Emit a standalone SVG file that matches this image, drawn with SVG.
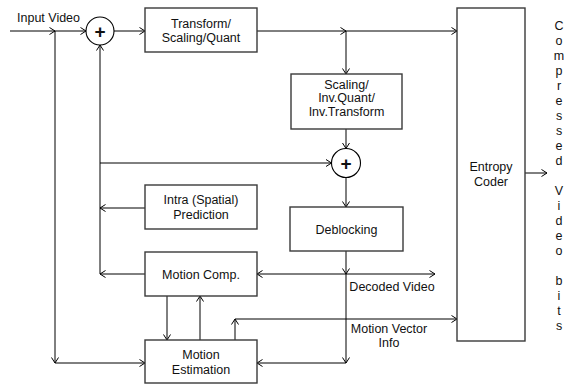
<svg xmlns="http://www.w3.org/2000/svg" width="565" height="385" viewBox="0 0 565 385">
<defs>
<marker id="ah" markerWidth="8" markerHeight="10" refX="6" refY="4" orient="auto-start-reverse" markerUnits="userSpaceOnUse">
<path d="M0.5,0.5 L6,4 L0.5,7.5" fill="none" stroke="#000" stroke-width="1"/>
</marker>
<style>
.box{fill:#fff;stroke:#3a3a3a;stroke-width:1.4}
.ln{fill:none;stroke:#000;stroke-width:1;marker-end:url(#ah)}
text{font-family:"Liberation Sans",Arial,sans-serif;font-size:12.5px;fill:#111}
.c{text-anchor:middle}
.plus{font-size:19px;font-weight:bold}
</style>
</defs>
<rect width="565" height="385" fill="#fff"/>
<g id="connectors">
<path class="ln" d="M10,31 H55"/>
<path class="ln" d="M55,31 H86"/>
<path class="ln" d="M114,31 H145"/>
<path class="ln" d="M257,31 H346"/>
<path class="ln" d="M346,31 H457"/>
<path class="ln" d="M346,31 V74"/>
<path class="ln" d="M346,129 V148.5"/>
<path class="ln" d="M346,177.5 V207"/>
<path class="ln" d="M346,251 V274"/>
<path class="ln" d="M346,274 V363"/>
<path class="ln" d="M346,363 H257"/>
<path class="ln" d="M257,274 H435" style="marker-start:url(#ah)"/>
<path class="ln" d="M55,31 V363"/>
<path class="ln" d="M55,363 H145"/>
<path class="ln" d="M100,274 V45"/>
<path class="ln" d="M145,208 H100"/>
<path class="ln" d="M145,274 H100"/>
<path class="ln" d="M100,163 H331.5"/>
<path class="ln" d="M167,296 V340"/>
<path class="ln" d="M200,340 V296"/>
<path class="ln" d="M235,340 V319"/>
<path class="ln" d="M235,319 H457"/>
<path class="ln" d="M525,173 H547"/>
</g>
<g id="labels">
<text x="17" y="21.5">Input Video</text>
<text x="392" y="291" class="c">Decoded Video</text>
<text x="389" y="333" class="c">Motion Vector</text>
<text x="389" y="347" class="c">Info</text>
</g>
<g id="sum1">
<circle cx="100" cy="31" r="14" fill="#fff" stroke="#000" stroke-width="1.1"/>
<text x="100" y="38" class="c plus">+</text>
</g>
<g id="sum2">
<circle cx="346" cy="163" r="14.5" fill="#fff" stroke="#000" stroke-width="1.1"/>
<text x="346" y="170" class="c plus">+</text>
</g>
<g id="transform">
<rect class="box" x="145" y="8" width="112" height="44"/>
<text x="201" y="27.5" class="c">Transform/</text>
<text x="201" y="41.5" class="c">Scaling/Quant</text>
</g>
<g id="invtransform">
<rect class="box" x="291" y="74" width="111" height="55"/>
<text x="346.5" y="88.5" class="c">Scaling/</text>
<text x="346.5" y="102" class="c">Inv.Quant/</text>
<text x="346.5" y="115.5" class="c">Inv.Transform</text>
</g>
<g id="intra">
<rect class="box" x="145" y="185" width="112" height="44"/>
<text x="201" y="204" class="c">Intra (Spatial)</text>
<text x="201" y="218.5" class="c">Prediction</text>
</g>
<g id="deblocking">
<rect class="box" x="290" y="207" width="113" height="44"/>
<text x="346.5" y="233.5" class="c">Deblocking</text>
</g>
<g id="motioncomp">
<rect class="box" x="145" y="252" width="112" height="44"/>
<text x="201" y="278.5" class="c">Motion Comp.</text>
</g>
<g id="motionest">
<rect class="box" x="145" y="340" width="112" height="43"/>
<text x="201" y="359" class="c">Motion</text>
<text x="201" y="374" class="c">Estimation</text>
</g>
<g id="entropy">
<rect class="box" x="457" y="8" width="68" height="333"/>
<text x="491" y="171" class="c">Entropy</text>
<text x="491" y="186" class="c">Coder</text>
</g>
<g id="output">
<text class="c" x="559" y="29.5"><tspan x="559">C</tspan><tspan x="559" dy="15">o</tspan><tspan x="559" dy="15">m</tspan><tspan x="559" dy="15">p</tspan><tspan x="559" dy="15">r</tspan><tspan x="559" dy="15">e</tspan><tspan x="559" dy="15">s</tspan><tspan x="559" dy="15">s</tspan><tspan x="559" dy="15">e</tspan><tspan x="559" dy="15">d</tspan><tspan x="559" dy="30">V</tspan><tspan x="559" dy="15">i</tspan><tspan x="559" dy="15">d</tspan><tspan x="559" dy="15">e</tspan><tspan x="559" dy="15">o</tspan><tspan x="559" dy="30">b</tspan><tspan x="559" dy="15">i</tspan><tspan x="559" dy="15">t</tspan><tspan x="559" dy="15">s</tspan></text>
</g>
</svg>
